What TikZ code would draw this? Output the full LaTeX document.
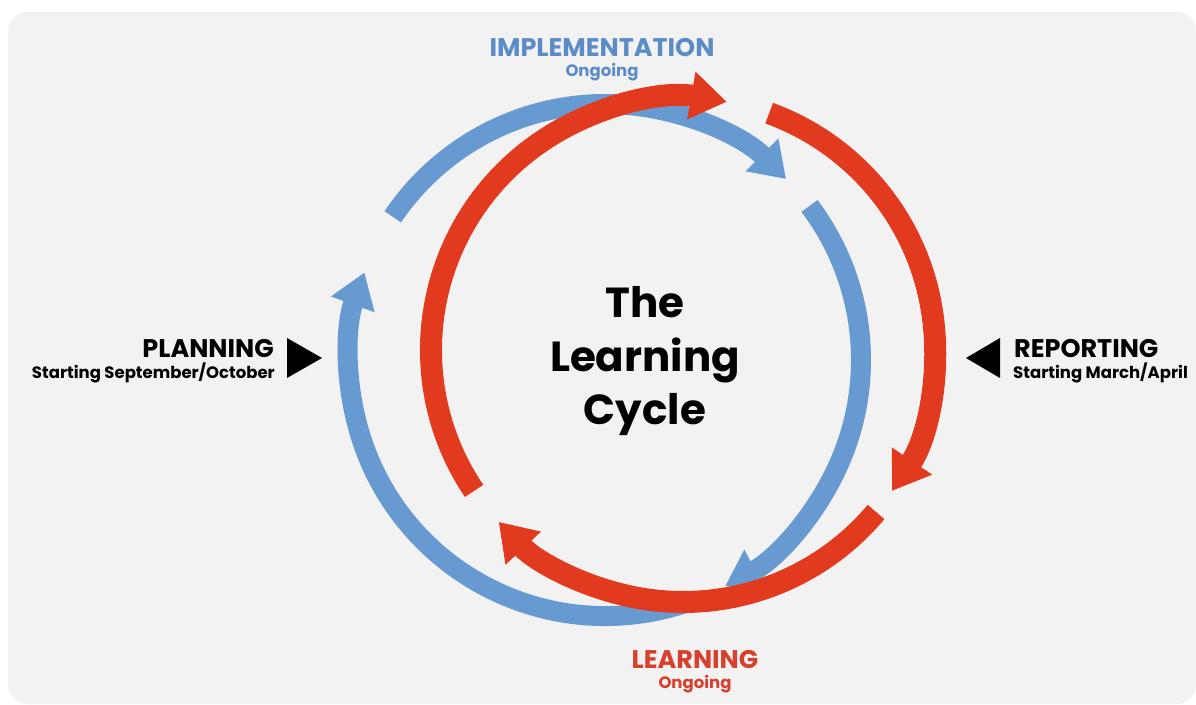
\documentclass[tikz,border=0pt]{standalone}
\usepackage{fontspec}
\setmainfont{Poppins}
\usetikzlibrary{arrows.meta}
\definecolor{bgray}{RGB}{242,242,242}
\definecolor{cblue}{RGB}{104,154,210}
\definecolor{cred}{RGB}{226,58,30}
\definecolor{tblue}{RGB}{92,140,198}
\definecolor{tred}{RGB}{214,64,44}
\tikzset{
  barc/.style={draw=cblue,line width=20pt},
  rarc/.style={draw=cred,line width=22pt},
  bhead/.style={-{Triangle[length=34pt,width=44pt]}},
  rhead/.style={-{Triangle[length=36pt,width=46pt]}},
  phase/.style={font=\fontsize{25.5}{28}\selectfont\bfseries,inner sep=0pt},
  sub/.style={font=\fontsize{16.5}{18}\selectfont\bfseries,inner sep=0pt},
  ttl/.style={font=\fontsize{42}{54}\selectfont\bfseries,align=center,inner sep=0pt},
  tri/.style={fill=black}
}
\begin{document}
\begin{tikzpicture}[x=1pt,y=1pt]
\useasboundingbox (0,0) rectangle (1196,704);
\fill[white] (0,0) rectangle (1196,704);
\fill[bgray,rounded corners=20pt] (8,0) rectangle (1196,692);
% centres
\coordinate (bc) at (605,344);
\coordinate (rc) at (683,354);
% blue arcs (r=256)
\draw[barc,bhead] ([shift={(146:256)}]bc) arc[start angle=146,end angle=45,radius=256];
\draw[barc,bhead] ([shift={(37:256)}]bc) arc[start angle=37,end angle=-62,radius=256];
\draw[barc,bhead] ([shift={(-72:256)}]bc) arc[start angle=-72,end angle=-200,radius=256];
% red arcs (r=252)
\draw[rarc,rhead] ([shift={(214:252)}]rc) arc[start angle=214,end angle=80,radius=252];
\draw[rarc,rhead] ([shift={(70:252)}]rc) arc[start angle=70,end angle=-34,radius=252];
\draw[rarc,rhead] ([shift={(-40:252)}]rc) arc[start angle=-40,end angle=-137,radius=252];
% title
\node[ttl,anchor=base] (t1) at (645,386) {The};
\node[ttl,anchor=base] (t2) at (645,332) {Learning};
\node[ttl,anchor=base] (t3) at (645,279) {Cycle};
% labels
\node[phase,text=tblue,anchor=base] (impl) at (602,647) {IMPLEMENTATION};
\node[sub,text=tblue,anchor=base] (implsub) at (602,627) {Ongoing};
\node[phase,text=tred,anchor=base] (learn) at (695,36) {LEARNING};
\node[sub,text=tred,anchor=base] (learnsub) at (695,16) {Ongoing};
\node[phase,anchor=base east] (plan) at (274,346) {PLANNING};
\node[sub,anchor=base east] (plansub) at (275,325) {Starting September/October};
\node[phase,anchor=base west] (rep) at (1014,346) {REPORTING};
\node[sub,anchor=base west] (repsub) at (1013,325) {Starting March/April};
% triangles
\fill[tri] (287,366) -- (287,326) -- (322,346) -- cycle;
\fill[tri] (1000,366) -- (1000,326) -- (966,346) -- cycle;
\end{tikzpicture}
\end{document}
